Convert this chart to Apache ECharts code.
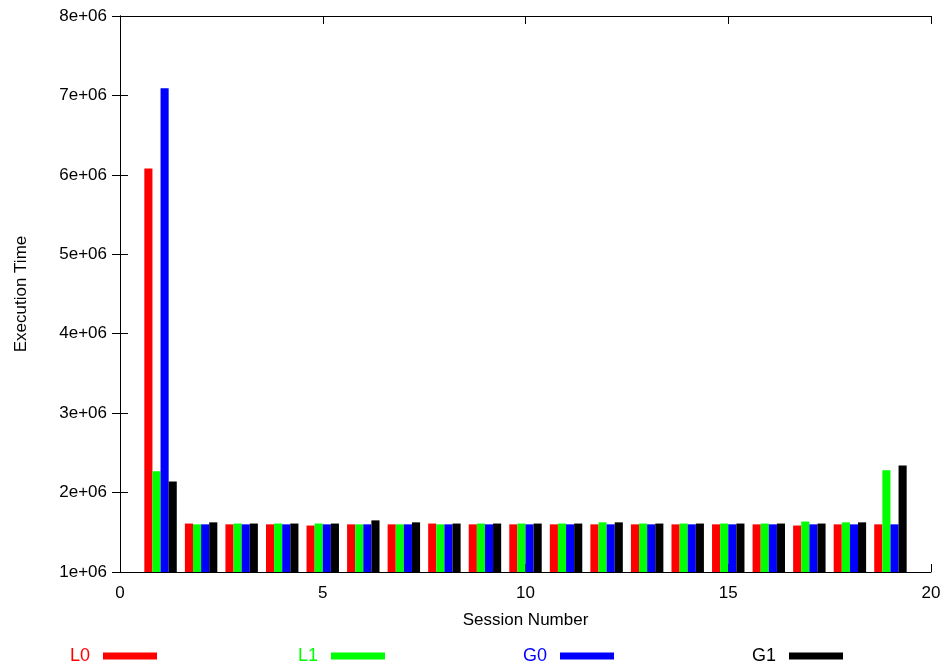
<!DOCTYPE html>
<html>
<head>
<meta charset="utf-8">
<script src="https://cdn.jsdelivr.net/npm/echarts@6/dist/echarts.min.js"></script>
<style>
  html, body { margin: 0; padding: 0; background: #fff; }
  #chart { width: 947px; height: 669px; }
</style>
</head>
<body>
<div id="chart"></div>
<script>
// Session numbers on the x axis
const sessions = [1, 2, 3, 4, 5, 6, 7, 8, 9, 10, 11, 12, 13, 14, 15, 16, 17, 18, 19];

// Execution time per session for each configuration
const L0 = [6.08e6, 1.61e6, 1.60e6, 1.60e6, 1.585e6, 1.60e6, 1.60e6, 1.61e6, 1.60e6, 1.60e6,
            1.60e6, 1.60e6, 1.60e6, 1.60e6, 1.60e6, 1.60e6, 1.585e6, 1.60e6, 1.60e6];
const L1 = [2.27e6, 1.60e6, 1.61e6, 1.61e6, 1.61e6, 1.60e6, 1.60e6, 1.60e6, 1.61e6, 1.61e6,
            1.61e6, 1.625e6, 1.61e6, 1.61e6, 1.61e6, 1.61e6, 1.635e6, 1.625e6, 2.28e6];
const G0 = [7.09e6, 1.60e6, 1.60e6, 1.60e6, 1.60e6, 1.60e6, 1.60e6, 1.60e6, 1.60e6, 1.60e6,
            1.60e6, 1.60e6, 1.60e6, 1.60e6, 1.60e6, 1.60e6, 1.60e6, 1.60e6, 1.60e6];
const G1 = [2.14e6, 1.625e6, 1.61e6, 1.61e6, 1.61e6, 1.65e6, 1.625e6, 1.61e6, 1.61e6, 1.61e6,
            1.61e6, 1.625e6, 1.61e6, 1.61e6, 1.61e6, 1.61e6, 1.61e6, 1.625e6, 2.34e6];

// Axis ticks
const xTicks = [0, 5, 10, 15, 20];
const yTicks = [1e6, 2e6, 3e6, 4e6, 5e6, 6e6, 7e6, 8e6];

const seriesNames = ['L0', 'L1', 'G0', 'G1'];
const seriesData = [L0, L1, G0, G1];
const seriesColors = ['#ff0000', '#00ff00', '#0000ff', '#000000'];

const FONT = 'Liberation Sans, Arial, sans-serif';
const yMin = yTicks[0];
const yMax = yTicks[yTicks.length - 1];
const BOX = 0.2; // width of one bar in session units

const chart = echarts.init(document.getElementById('chart'), null, { renderer: 'canvas' });

function makeSeries(idx) {
  return {
    type: 'custom',
    name: seriesNames[idx],
    xAxisIndex: 0,
    yAxisIndex: 0,
    itemStyle: { color: seriesColors[idx] },
    clip: true,
    data: sessions.map((s, i) => [s, seriesData[idx][i]]),
    renderItem: function (params, api) {
      const s = api.value(0);
      const v = api.value(1);
      const x0 = s - 2 * BOX + idx * BOX;
      const p0 = api.coord([x0, v]);
      const p1 = api.coord([x0 + BOX, yMin]);
      return {
        type: 'rect',
        shape: { x: p0[0], y: p0[1], width: p1[0] - p0[0], height: p1[1] - p0[1] },
        style: { fill: seriesColors[idx] }
      };
    }
  };
}

const axisLine = { show: true, lineStyle: { color: '#000', width: 1 } };
const tickStyle = { show: true, inside: true, length: 8, lineStyle: { color: '#000', width: 1 } };

// One legend block per series: coloured name, then a thick line sample
const legendRight = [790, 562, 333, 104];
const legends = seriesNames.map((name, i) => ({
  data: [{ name: name, icon: 'rect', textStyle: { color: seriesColors[i] } }],
  orient: 'horizontal',
  align: 'right',
  right: legendRight[i],
  top: 647,
  padding: 0,
  itemWidth: 54,
  itemHeight: 7,
  selectedMode: false,
  textStyle: { fontFamily: FONT, fontSize: 18, padding: [0, 8, 0, 0] }
}));

chart.setOption({
  animation: false,
  backgroundColor: '#fff',
  grid: { left: 120, top: 16, width: 811, height: 556, show: false },
  legend: legends,
  xAxis: [
    {
      type: 'value', min: xTicks[0], max: xTicks[xTicks.length - 1], interval: 5,
      position: 'bottom',
      name: 'Session Number', nameLocation: 'middle', nameGap: 40,
      nameTextStyle: { fontFamily: FONT, fontSize: 17, color: '#000' },
      axisLine: axisLine, axisTick: tickStyle, splitLine: { show: false },
      axisLabel: { fontFamily: FONT, fontSize: 17, color: '#000', margin: 13 }
    },
    {
      type: 'value', min: xTicks[0], max: xTicks[xTicks.length - 1], interval: 5,
      position: 'top',
      axisLine: axisLine, axisTick: tickStyle, splitLine: { show: false },
      axisLabel: { show: false }
    }
  ],
  yAxis: [
    {
      type: 'value', min: yMin, max: yMax, interval: 1e6,
      position: 'left',
      name: 'Execution Time', nameLocation: 'middle', nameGap: 90, nameRotate: 90,
      nameTextStyle: { fontFamily: FONT, fontSize: 17, color: '#000' },
      axisLine: axisLine, axisTick: tickStyle, splitLine: { show: false },
      axisLabel: {
        fontFamily: FONT, fontSize: 17, color: '#000', margin: 13,
        formatter: v => (v / 1e6) + 'e+06'
      }
    },
    {
      type: 'value', min: yMin, max: yMax, interval: 1e6,
      position: 'right',
      axisLine: axisLine, axisTick: tickStyle, splitLine: { show: false },
      axisLabel: { show: false }
    }
  ],
  series: [0, 1, 2, 3].map(makeSeries)
});
</script>
</body>
</html>
